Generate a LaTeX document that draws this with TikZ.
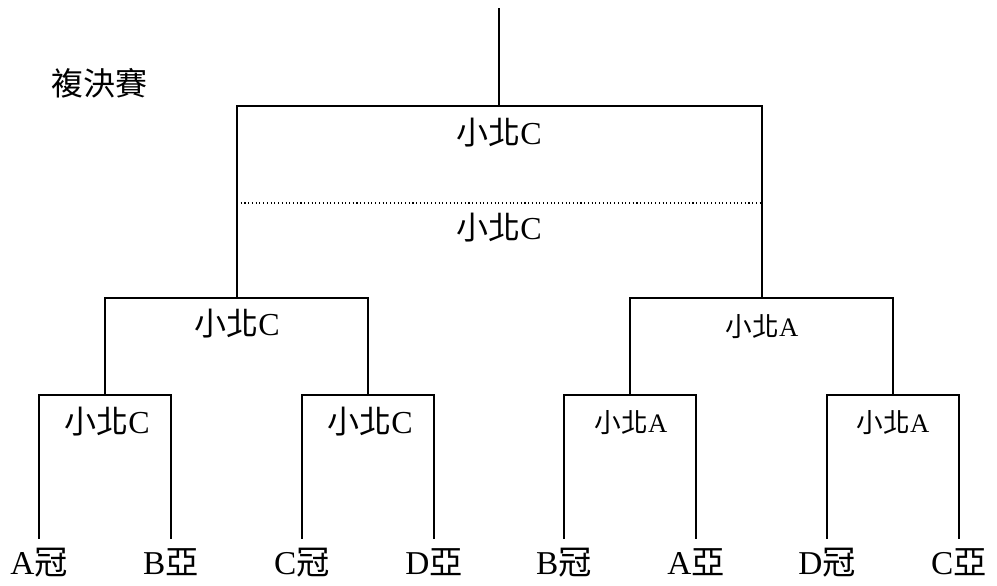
\documentclass[tikz,border=0pt]{standalone}
\usepackage{fontspec}
\setmainfont{Liberation Serif}
\newfontfamily\cjk{Noto Sans CJK TC}
\newcommand{\zh}[1]{{\cjk #1}}
\usetikzlibrary{positioning}
\begin{document}
\begin{tikzpicture}[x=0.75pt,y=-0.75pt]
\tikzstyle{every node}+=[inner sep=0pt]
\tikzstyle{win}=[black,line width=1.5pt]
\tikzstyle{lose}=[black,line width=0.85pt]
\tikzstyle{big}=[font=\fontsize{24}{28}\selectfont]
\tikzstyle{small}=[font=\fontsize{20}{24}\selectfont]
\tikzstyle{leaf}=[font=\fontsize{25}{29}\selectfont]
\useasboundingbox (0,0) rectangle (997,586);
\node [big] (title) at (99,83) {\zh{複決賽}};
% junctions
\coordinate (top) at (499,8);
\coordinate (fin) at (499,106);
\coordinate (sL) at (237,298);
\coordinate (sR) at (762,298);
\coordinate (qLL) at (105,395);
\coordinate (qLR) at (368,395);
\coordinate (qRL) at (630,395);
\coordinate (qRR) at (893,395);
% leaf ends
\coordinate (t1) at (39,539);
\coordinate (t2) at (171,539);
\coordinate (t3) at (302,539);
\coordinate (t4) at (434,539);
\coordinate (t5) at (564,539);
\coordinate (t6) at (696,539);
\coordinate (t7) at (827,539);
\coordinate (t8) at (959,539);
\node [leaf, below=7pt of t1] (a1) {A\zh{冠}};
\node [leaf, below=7pt of t2] (b2) {B\zh{亞}};
\node [leaf, below=7pt of t3] (c1) {C\zh{冠}};
\node [leaf, below=7pt of t4] (d2) {D\zh{亞}};
\node [leaf, below=7pt of t5] (b1) {B\zh{冠}};
\node [leaf, below=7pt of t6] (a2) {A\zh{亞}};
\node [leaf, below=7pt of t7] (d1) {D\zh{冠}};
\node [leaf, below=7pt of t8] (c2) {C\zh{亞}};
% final
\draw [win] (top) -- (fin);
\draw [win] (fin) -| (sL);
\draw [win] (fin) -| (sR);
\coordinate (dl) at (237,203);
\coordinate (dr) at (760,203);
\draw [black, dotted, line width=0.8pt] (dl) -- (dr);
\node [big] (w1) at (499,133) {\zh{小北}C};
\node [big] (w2) at (499,228) {\zh{小北}C};
% semifinals
\draw [win] (sL) -| (qLL);
\draw [win] (sL) -| (qLR);
\node [big] (s1) at (237,324) {\zh{小北}C};
\draw [win] (sR) -| (qRL);
\draw [lose] (sR) -| (qRR);
\node [small] (s2) at (762,327) {\zh{小北}A};
% quarterfinals
\draw [win] (qLL) -| (t1);
\draw [lose] (qLL) -| (t2);
\node [big] (q1) at (107,422) {\zh{小北}C};
\draw [win] (qLR) -| (t3);
\draw [lose] (qLR) -| (t4);
\node [big] (q2) at (370,422) {\zh{小北}C};
\draw [win] (qRL) -| (t5);
\draw [lose] (qRL) -| (t6);
\node [small] (q3) at (631,423) {\zh{小北}A};
\draw [win] (qRR) -| (t7);
\draw [lose] (qRR) -| (t8);
\node [small] (q4) at (893,423) {\zh{小北}A};
\end{tikzpicture}
\end{document}
